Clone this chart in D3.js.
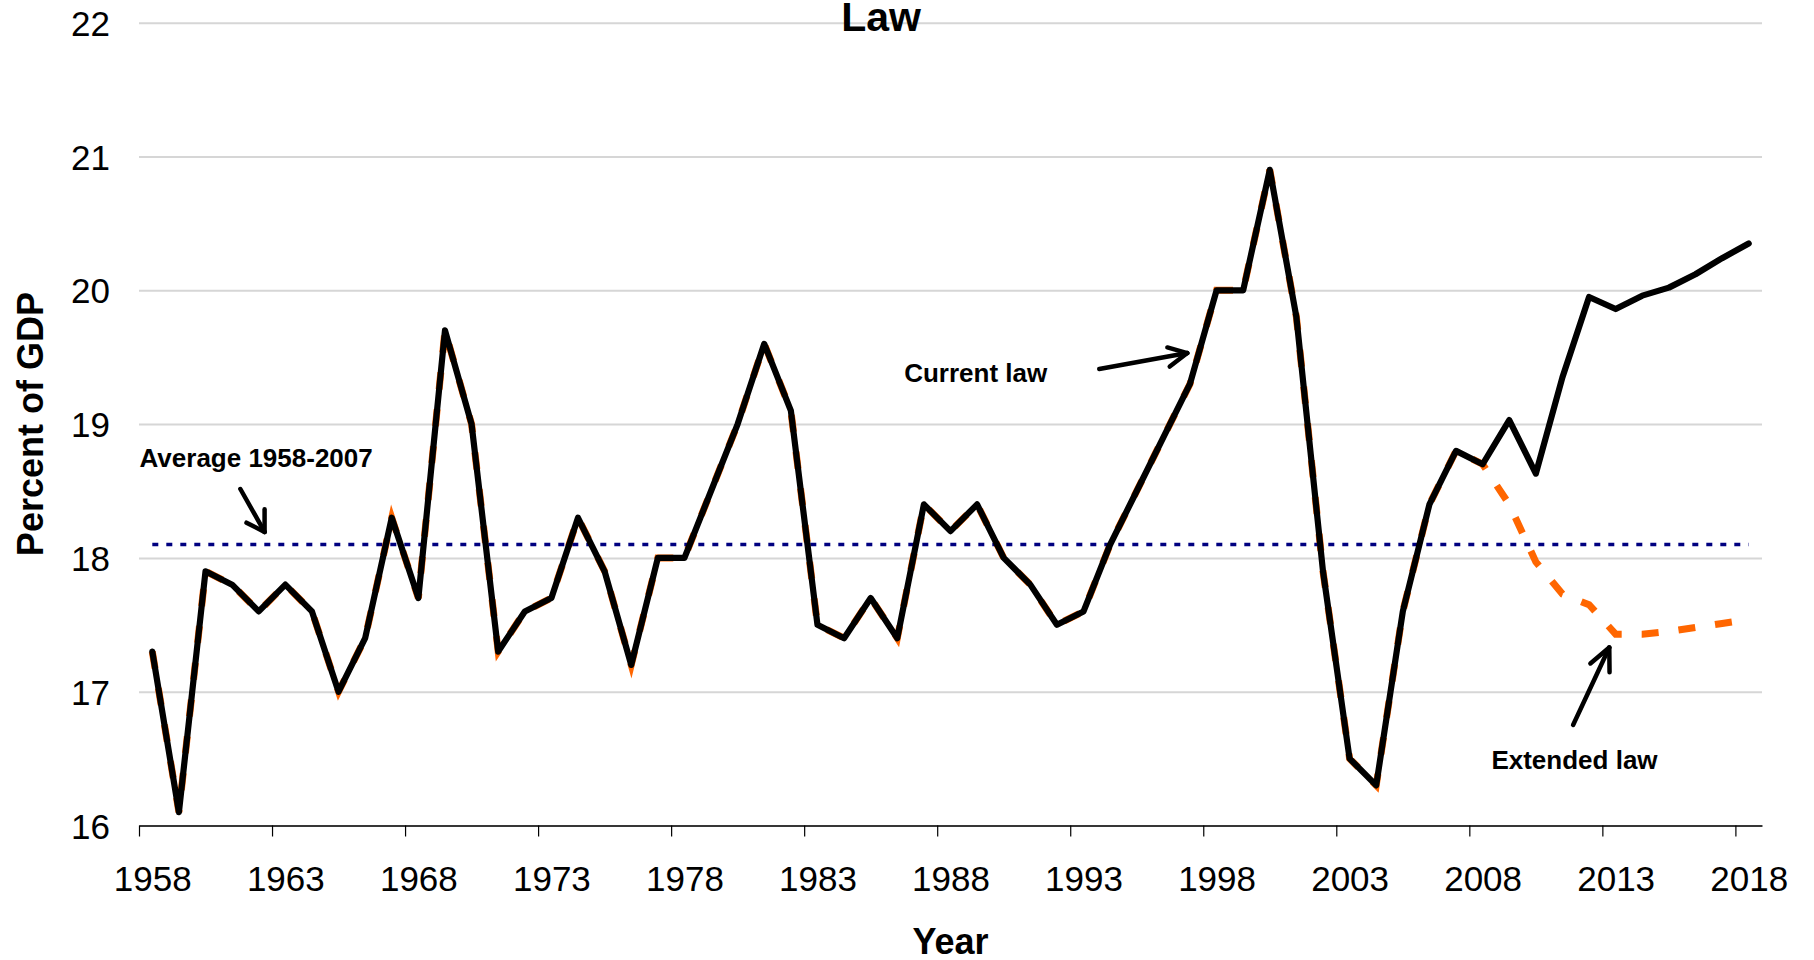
<!DOCTYPE html>
<html>
<head>
<meta charset="utf-8">
<script src="https://cdn.jsdelivr.net/npm/d3@7"></script>
<style>
  body { margin: 0; background: #fff; }
  svg { display: block; font-family: "Liberation Sans", Arial, sans-serif; }
</style>
</head>
<body>
<svg width="1814" height="960"></svg>
<script>
// data
const years = d3.range(1958, 2019);
const currentLaw = [
  17.3, 16.1, 17.9, 17.8, 17.6, 17.8, 17.6, 17.0, 17.4, 18.3,
  17.7, 19.7, 19.0, 17.3, 17.6, 17.7, 18.3, 17.9, 17.2, 18.0,
  18.0, 18.5, 19.0, 19.6, 19.1, 17.5, 17.4, 17.7, 17.4, 18.4,
  18.2, 18.4, 18.0, 17.8, 17.5, 17.6, 18.1, 18.5, 18.9, 19.3,
  20.0, 20.0, 20.9, 19.8, 17.9, 16.5, 16.3, 17.6, 18.4, 18.8,
  18.7, 19.03, 18.63, 19.35, 19.95, 19.86, 19.96, 20.02, 20.12, 20.24, 20.35
];
const extendedLaw = [
  17.3, 16.1, 17.9, 17.8, 17.6, 17.8, 17.6, 17.0, 17.4, 18.3,
  17.7, 19.7, 19.0, 17.3, 17.6, 17.7, 18.3, 17.9, 17.2, 18.0,
  18.0, 18.5, 19.0, 19.6, 19.1, 17.5, 17.4, 17.7, 17.4, 18.4,
  18.2, 18.4, 18.0, 17.8, 17.5, 17.6, 18.1, 18.5, 18.9, 19.3,
  20.0, 20.0, 20.9, 19.8, 17.9, 16.5, 16.3, 17.6, 18.4, 18.8,
  18.7, 18.4, 17.97, 17.73, 17.65, 17.43, 17.43, 17.45, 17.48, 17.51, 17.54
];
const averageValue = 18.1;   // Average 1958-2007
const yTicks = [16, 17, 18, 19, 20, 21, 22];
const xLabelYears = [1958, 1963, 1968, 1973, 1978, 1983, 1988, 1993, 1998, 2003, 2008, 2013, 2018];

// annotations, in (year, value) space
const notes = [
  { text: "Average 1958-2007", x: 1957.52, y: 18.68 },
  { text: "Current law", x: 1986.26, y: 19.315 },
  { text: "Extended law", x: 2008.33, y: 16.42 }
];
const arrows = [
  { from: [1961.31, 18.515], to: [1962.22, 18.194], barbs: [[1961.54, 18.263], [1962.22, 18.363]] },
  { from: [1993.59, 19.412], to: [1996.90, 19.531], barbs: [[1996.15, 19.573], [1996.24, 19.43]] },
  { from: [2011.40, 16.751], to: [2012.76, 17.33], barbs: [[2012.05, 17.211], [2012.77, 17.145]] }
];

const svg = d3.select("svg");
const plotLeft = 139, plotRight = 1762, plotTop = 22.7, plotBottom = 825.5;

// categories: each year sits in the middle of its slot
const x = d3.scaleLinear().domain([1957.5, 2018.5]).range([plotLeft, plotRight]);
const y = d3.scaleLinear().domain([16, 22]).range([plotBottom, plotTop]);

// gridlines + y labels
const yAxis = d3.axisLeft(y).tickValues(yTicks).tickFormat(d3.format("d"))
    .tickSize(-(plotRight - plotLeft)).tickPadding(29);
svg.append("g")
    .attr("transform", "translate(" + plotLeft + ",0)")
    .call(yAxis)
    .call(g => g.select(".domain").remove())
    .call(g => g.selectAll(".tick line").attr("stroke", "#d6d6d6").attr("stroke-width", 2))
    .call(g => g.selectAll(".tick text")
      .attr("font-size", 35).attr("font-family", "Liberation Sans, Arial, sans-serif")
      .attr("fill", "#000").attr("dy", "0.36em"));

// x axis: ticks between categories, labels on the category
const boundaries = xLabelYears.map(d => d - 0.5);
svg.append("g")
    .attr("transform", "translate(0," + plotBottom + ")")
    .call(d3.axisBottom(x).tickValues(boundaries).tickSizeInner(11).tickSizeOuter(0).tickFormat(""))
    .call(g => g.select(".domain").attr("stroke", "#000").attr("stroke-width", 1.6))
    .call(g => g.selectAll(".tick line").attr("stroke", "#000").attr("stroke-width", 1.2));

svg.append("g")
    .attr("transform", "translate(0," + plotBottom + ")")
    .call(d3.axisBottom(x).tickValues(xLabelYears).tickSize(0).tickPadding(40.6).tickFormat(d3.format("d")))
    .call(g => g.select(".domain").remove())
    .call(g => g.selectAll(".tick text")
      .attr("font-size", 35).attr("font-family", "Liberation Sans, Arial, sans-serif").attr("fill", "#000"));

// lines
const line = d3.line().x((d, i) => x(years[i])).y(d => y(d));

svg.append("path")
    .attr("d", line(extendedLaw))
    .attr("fill", "none")
    .attr("stroke", "#ff6600")
    .attr("stroke-width", 7)
    .attr("stroke-dasharray", "17,20");

svg.append("line")
    .attr("x1", x(years[0])).attr("x2", x(years[years.length - 1]))
    .attr("y1", y(averageValue)).attr("y2", y(averageValue))
    .attr("stroke", "#000080")
    .attr("stroke-width", 3.4)
    .attr("stroke-dasharray", "6,8");

svg.append("path")
    .attr("d", line(currentLaw))
    .attr("fill", "none")
    .attr("stroke", "#000")
    .attr("stroke-width", 6.2)
    .attr("stroke-linejoin", "round")
    .attr("stroke-linecap", "round");

// annotations
svg.append("g").selectAll("text")
  .data(notes)
  .enter().append("text")
    .attr("x", d => x(d.x))
    .attr("y", d => y(d.y))
    .attr("font-size", 26)
    .attr("font-weight", "bold")
    .text(d => d.text);

const ag = svg.append("g")
    .attr("stroke", "#000")
    .attr("stroke-width", 4.5)
    .attr("stroke-linecap", "round")
    .attr("fill", "none");
arrows.forEach(a => {
  ag.append("line")
    .attr("x1", x(a.from[0])).attr("y1", y(a.from[1]))
    .attr("x2", x(a.to[0])).attr("y2", y(a.to[1]));
  a.barbs.forEach(b => {
    ag.append("line")
      .attr("x1", x(b[0])).attr("y1", y(b[1]))
      .attr("x2", x(a.to[0])).attr("y2", y(a.to[1]));
  });
});

// titles
svg.append("text")
    .attr("x", 881).attr("y", 31)
    .attr("text-anchor", "middle")
    .attr("font-size", 41).attr("font-weight", "bold")
    .text("Law");

svg.append("text")
    .attr("x", (plotLeft + plotRight) / 2).attr("y", 954)
    .attr("text-anchor", "middle")
    .attr("font-size", 36).attr("font-weight", "bold")
    .text("Year");

svg.append("text")
    .attr("transform", "translate(43," + ((plotTop + plotBottom) / 2) + ") rotate(-90)")
    .attr("text-anchor", "middle")
    .attr("font-size", 36).attr("font-weight", "bold")
    .text("Percent of GDP");
</script>
</body>
</html>
